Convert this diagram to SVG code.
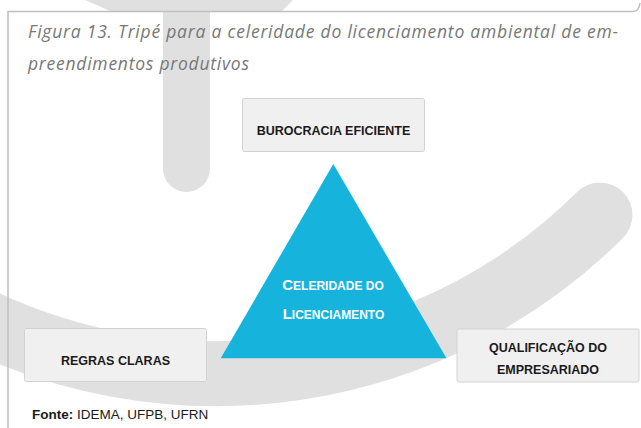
<svg xmlns="http://www.w3.org/2000/svg" width="641" height="428" viewBox="0 0 641 428">
<style>
.wm{fill:#e0e0e0}
.box{fill:#f0f0f0;stroke:#d2d2d2;stroke-width:1}
.lbl{font-family:"Liberation Sans",Arial,sans-serif;font-weight:bold;font-size:12.5px;fill:#1a1a1a;text-anchor:middle}
.cel{font-family:"Liberation Sans",Arial,sans-serif;font-weight:bold;fill:#ffffff;text-anchor:middle}
.title{font-family:"Open Sans","Liberation Sans",sans-serif;font-style:italic;font-size:17.5px;fill:#777777}
.src{font-family:"Liberation Sans",Arial,sans-serif;font-size:13.5px;fill:#1a1a1a}
</style>
<rect x="0" y="0" width="641" height="428" fill="#ffffff"/>
<g id="watermark">
  <polygon class="wm" points="85,0 293,0 282,11 110,11"/>
  <path class="wm" d="M163,0 V168.5 A23.5,23.5 0 0 0 210,168.5 V0 Z"/>
  <path d="M-40,310 A545,545 0 0 0 600,215" fill="none" stroke="#e0e0e0" stroke-width="65" stroke-linecap="round"/>
</g>
<path id="frame" d="M8,428 V11.5 H633 Q639,11.5 640,3" fill="none" stroke="#bfbfbf" stroke-width="1.5"/>
<g id="title">
  <text class="title" x="28" y="38" textLength="590" lengthAdjust="spacing">Figura 13. Tripé para a celeridade do licenciamento ambiental de em-</text>
  <text class="title" x="28" y="69.5" textLength="221" lengthAdjust="spacing">preendimentos produtivos</text>
</g>
<g id="connectors"></g>
<g id="burocracia">
  <rect class="box" x="242.5" y="98.5" width="182" height="53" rx="2"/>
  <text class="lbl" x="333.5" y="135">BUROCRACIA EFICIENTE</text>
</g>
<g id="celeridade">
  <polygon points="333.3,164 220.7,358.3 446.5,358.3" fill="#16b4dd"/>
  <text class="cel" x="333" y="290"><tspan font-size="15">C</tspan><tspan font-size="12">ELERIDADE DO</tspan></text>
  <text class="cel" x="333.5" y="318.5"><tspan font-size="15">L</tspan><tspan font-size="12">ICENCIAMENTO</tspan></text>
</g>
<g id="regras">
  <rect class="box" x="24.5" y="328.5" width="182" height="53" rx="2"/>
  <text class="lbl" x="115.5" y="365">REGRAS CLARAS</text>
</g>
<g id="qualificacao">
  <rect class="box" x="457" y="329" width="182" height="53" rx="2"/>
  <text class="lbl" x="548" y="352">QUALIFICAÇÃO DO</text>
  <text class="lbl" x="548" y="374">EMPRESARIADO</text>
</g>
<text class="src" x="32" y="419"><tspan font-weight="bold">Fonte:</tspan> IDEMA, UFPB, UFRN</text>
</svg>
